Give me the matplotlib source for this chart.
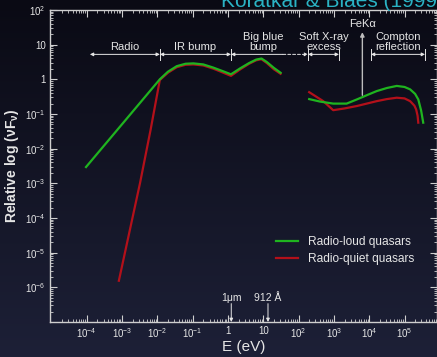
import numpy as np
import matplotlib
matplotlib.use('Agg')
import matplotlib.pyplot as plt
from matplotlib.ticker import FixedLocator, FuncFormatter, LogLocator, NullFormatter
from matplotlib.colors import LinearSegmentedColormap

plt.rcParams['font.family'] = ['Liberation Sans', 'DejaVu Sans']
plt.rcParams['mathtext.fontset'] = 'custom'
plt.rcParams['mathtext.rm'] = 'Liberation Sans'
plt.rcParams['mathtext.it'] = 'Liberation Sans:italic'
plt.rcParams['mathtext.bf'] = 'Liberation Sans:bold'

# data: log10(E / eV), log10(relative nuFnu)
loud_low_logE = [-4.02, -1.93, -1.7, -1.45, -1.2, -0.98, -0.7, -0.42, -0.13, 0.085,
                 0.35, 0.6, 0.8, 0.95, 1.1, 1.3, 1.49]
loud_low_logF = [-2.53, 0.0, 0.22, 0.38, 0.45, 0.46, 0.43, 0.34, 0.23, 0.145,
                 0.32, 0.47, 0.57, 0.6, 0.5, 0.33, 0.19]
quiet_low_logE = [-3.09, -2.49, -2.19, -1.93, -1.7, -1.45, -1.2, -0.98, -0.7, -0.42, -0.13,
                  0.085, 0.35, 0.6, 0.8, 0.95, 1.1, 1.3, 1.49]
quiet_low_logF = [-5.81, -2.99, -1.45, -0.02, 0.19, 0.35, 0.42, 0.43, 0.40, 0.31, 0.19,
                  0.10, 0.29, 0.45, 0.55, 0.58, 0.47, 0.29, 0.16]
loud_x_logE = [2.30, 2.6, 2.98, 3.36, 3.65, 3.95, 4.21, 4.5, 4.78, 5.0, 5.16, 5.3, 5.39, 5.47, 5.53]
loud_x_logF = [-0.57, -0.64, -0.70, -0.70, -0.58, -0.45, -0.34, -0.25, -0.19, -0.22, -0.29,
               -0.42, -0.58, -0.9, -1.25]
quiet_x_logE = [2.30, 2.50, 2.70, 2.98, 3.3, 3.65, 4.21, 4.5, 4.78, 5.0, 5.16, 5.28, 5.33, 5.37, 5.39]
quiet_x_logF = [-0.37, -0.50, -0.63, -0.89, -0.84, -0.77, -0.63, -0.57, -0.53, -0.55, -0.63,
                -0.76, -0.87, -1.05, -1.25]

# band boundaries (eV) used by the labelled arrows
radio_band = [1.23e-4, 0.0118]
ir_band = [0.0118, 1.22]
bbb_band = [1.22, 36.0, 185.0]
soft_band = [185.0, 1390.0]
compton_band = [1.12e4, 3.8e5]
fe_line = 6400.0
mark_1um = 1.24
mark_912 = 13.6

green = '#1fb41f'
red = '#b3101a'
fg = '#e6e6e6'

fig = plt.figure(figsize=(4.37, 3.57), dpi=100)

# dark gradient background
bg = fig.add_axes([0, 0, 1, 1], zorder=-5)
grad = np.linspace(0, 1, 256).reshape(-1, 1)
cmap = LinearSegmentedColormap.from_list('bg', ['#0a0a14', '#1d2037'])
bg.imshow(grad, aspect='auto', cmap=cmap, extent=[0, 1, 0, 1], origin='upper')
bg.axis('off')

# caption partly outside the top edge, as in the source image
fig.text(0.505, 1 - 7 / 357, 'Koratkar & Blaes (1999)', color='#2ab3c4', fontsize=15,
         va='baseline', ha='left')

ax = fig.add_axes([50 / 437, 35 / 357, 387 / 437, 312 / 357])
ax.patch.set_alpha(0)
ax.set_xscale('log')
ax.set_yscale('log')
ax.set_xlim(10 ** -5.04, 10 ** 5.92)
ax.set_ylim(1e-7, 1e2)

ax.plot(10 ** np.array(loud_low_logE), 10 ** np.array(loud_low_logF), color=green, lw=1.6,
        label='Radio-loud quasars', zorder=3)
ax.plot(10 ** np.array(quiet_low_logE), 10 ** np.array(quiet_low_logF), color=red, lw=1.6,
        label='Radio-quiet quasars', zorder=2)
ax.plot(10 ** np.array(loud_x_logE), 10 ** np.array(loud_x_logF), color=green, lw=1.6, zorder=3)
ax.plot(10 ** np.array(quiet_x_logE), 10 ** np.array(quiet_x_logF), color=red, lw=1.6, zorder=2)

# axes styling
for side in ['left', 'bottom', 'top', 'right']:
    ax.spines[side].set_color('#cfcfcf')
    ax.spines[side].set_linewidth(1.0)

def fmt(v, pos):
    k = int(round(np.log10(v)))
    if k == 0:
        return '1'
    if k == 1:
        return '10'
    return r'$10^{%d}$' % k

ax.xaxis.set_major_locator(FixedLocator([10.0 ** k for k in range(-4, 6)]))
ax.yaxis.set_major_locator(FixedLocator([10.0 ** k for k in range(-6, 3)]))
ax.xaxis.set_major_formatter(FuncFormatter(fmt))
ax.yaxis.set_major_formatter(FuncFormatter(fmt))
ax.xaxis.set_minor_locator(LogLocator(subs=np.arange(2, 10), numticks=100))
ax.yaxis.set_minor_locator(LogLocator(subs=np.arange(2, 10), numticks=100))
ax.xaxis.set_minor_formatter(NullFormatter())
ax.yaxis.set_minor_formatter(NullFormatter())
ax.tick_params(which='both', direction='in', colors='#cfcfcf', labelcolor=fg,
               top=True, right=True, labelsize=7)
ax.tick_params(which='major', length=5, width=0.8, pad=3)
ax.tick_params(which='minor', length=2.5, width=0.6)

ax.set_xlabel('E (eV)', color=fg, fontsize=11, labelpad=0)
ax.set_ylabel(u'Relative log (\u03bdF$_{\\mathregular{\u03bd}}$)', color=fg, fontsize=10,
              fontweight='bold', labelpad=3)

# band arrows
arr_y = 10 ** 0.72
txt_y = 10 ** 0.8
akw = dict(arrowstyle='<|-|>', color=fg, lw=0.7, mutation_scale=5, shrinkA=0, shrinkB=0)
tkw = dict(color=fg, fontsize=8, ha='center', va='bottom', linespacing=0.95)

def band(a, b, label, style='solid'):
    ax.annotate('', xy=(a, arr_y), xytext=(b, arr_y),
                arrowprops=dict(akw, linestyle=style))
    ax.text(np.sqrt(a * b), txt_y, label, **tkw)

band(radio_band[0], radio_band[1], 'Radio')
band(ir_band[0], ir_band[1], 'IR bump')
ax.annotate('', xy=(bbb_band[0], arr_y), xytext=(bbb_band[1], arr_y),
            arrowprops=dict(arrowstyle='-|>', color=fg, lw=0.7, mutation_scale=5,
                            shrinkA=0, shrinkB=0))
ax.annotate('', xy=(bbb_band[2], arr_y), xytext=(bbb_band[1], arr_y),
            arrowprops=dict(arrowstyle='-|>', color=fg, lw=0.7, mutation_scale=5,
                            shrinkA=0, shrinkB=0, linestyle=(0, (3, 2))))
ax.text(10.0, txt_y, 'Big blue\nbump', **tkw)
band(soft_band[0], soft_band[1], 'Soft X-ray\nexcess')
band(compton_band[0], compton_band[1], 'Compton\nreflection')

for e in [radio_band[1], ir_band[1], soft_band[0], soft_band[1], compton_band[0], compton_band[1]]:
    ax.plot([e, e], [arr_y / 1.45, arr_y * 1.45], color=fg, lw=0.7)

ax.annotate('', xy=(fe_line, 10 ** 1.36), xytext=(fe_line, 10 ** -0.46),
            arrowprops=dict(arrowstyle='-|>', color='#bdbdbd', lw=1.0, mutation_scale=6,
                            shrinkA=0, shrinkB=0))
ax.text(fe_line, 10 ** 1.45, u'FeK\u03b1', color=fg, fontsize=8, ha='center', va='bottom')

for e, lab in [(mark_1um, u'1\u03bcm'), (mark_912, u'912 \u00c5')]:
    ax.annotate('', xy=(e, 1e-7), xytext=(e, 10 ** -6.47),
                arrowprops=dict(arrowstyle='-|>', color=fg, lw=0.7, mutation_scale=5,
                                shrinkA=0, shrinkB=0))
    ax.text(e, 10 ** -6.45, lab, color=fg, fontsize=7.5, ha='center', va='bottom')

leg = ax.legend(loc='upper left', bbox_to_anchor=(0.555, 0.31), frameon=False,
                fontsize=8.6, handlelength=1.9, labelspacing=0.4, handletextpad=0.8)
for t in leg.get_texts():
    t.set_color(fg)

fig.savefig('out.png', dpi=100)
